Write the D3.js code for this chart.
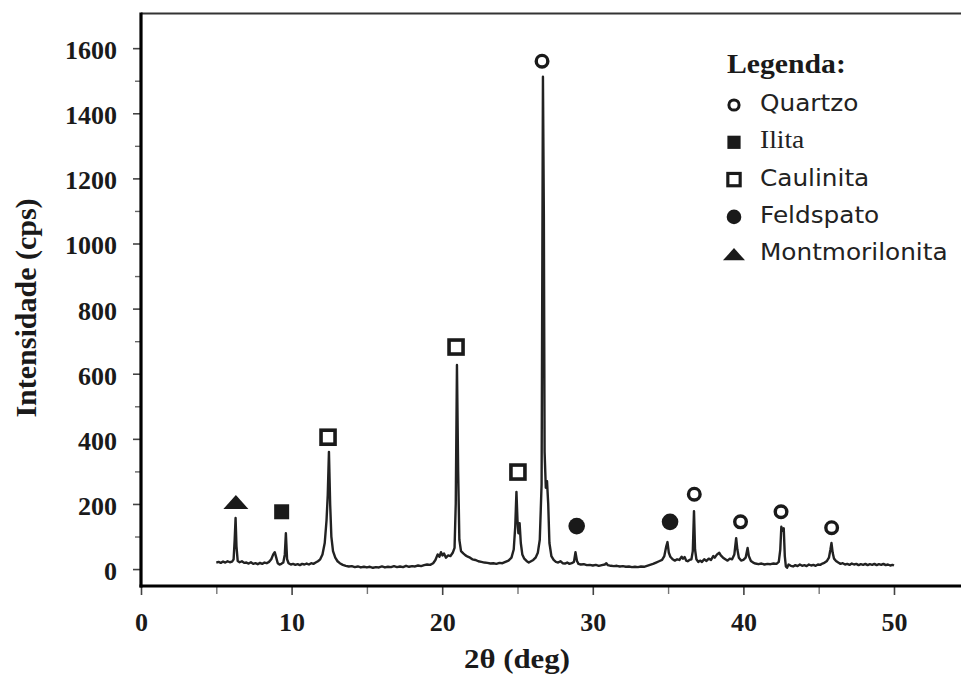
<!DOCTYPE html>
<html>
<head>
<meta charset="utf-8">
<title>Difratograma</title>
<script src="https://cdn.jsdelivr.net/npm/d3@7"></script>
<style>
  html, body { margin: 0; padding: 0; background: #fff; }
  svg { display: block; }
</style>
</head>
<body>
<div id="chart"></div>
<script>
// difratograma de raios X: [2θ (deg), intensidade (cps)]
const scan = [
  [5.0, 20], [5.15, 22], [5.3, 19], [5.45, 23], [5.6, 20], [5.75, 24], [5.9, 21], [6.05, 23],
  [6.15, 30], [6.22, 90], [6.28, 157], [6.34, 70], [6.42, 25], [6.55, 21], [6.7, 24], [6.85, 19],
  [7.0, 20], [7.15, 17], [7.3, 21], [7.45, 16], [7.6, 18], [7.75, 15], [7.9, 19], [8.05, 16],
  [8.2, 20], [8.35, 18], [8.5, 22], [8.65, 30], [8.78, 45], [8.88, 52], [8.98, 35], [9.08, 18],
  [9.2, 14], [9.32, 16], [9.45, 20], [9.55, 45], [9.62, 110], [9.7, 30], [9.8, 18], [9.95, 14],
  [10.1, 16], [10.25, 13], [10.4, 15], [10.55, 12], [10.7, 16], [10.85, 14], [11.0, 17], [11.15, 14],
  [11.3, 18], [11.45, 16], [11.6, 20], [11.75, 24], [11.9, 30], [12.05, 45], [12.2, 80], [12.32, 150],
  [12.4, 227], [12.48, 360], [12.56, 200], [12.64, 100], [12.75, 55], [12.9, 35], [13.05, 24], [13.2, 18],
  [13.4, 13], [13.6, 10], [13.8, 8], [14.0, 9], [14.2, 6], [14.4, 8], [14.6, 5], [14.8, 7],
  [15.0, 5], [15.2, 7], [15.4, 4], [15.6, 6], [15.8, 5], [16.0, 8], [16.2, 5], [16.4, 7],
  [16.6, 6], [16.8, 9], [17.0, 6], [17.2, 8], [17.4, 6], [17.6, 10], [17.8, 7], [18.0, 9],
  [18.2, 8], [18.4, 11], [18.6, 9], [18.8, 12], [19.0, 14], [19.2, 13], [19.4, 18], [19.55, 28],
  [19.7, 45], [19.82, 38], [19.92, 52], [20.02, 42], [20.12, 48], [20.25, 35], [20.4, 42], [20.55, 40],
  [20.7, 50], [20.82, 65], [20.9, 200], [20.98, 627], [21.06, 300], [21.14, 90], [21.25, 55], [21.4, 48],
  [21.55, 42], [21.7, 38], [21.85, 35], [22.0, 30], [22.2, 28], [22.4, 24], [22.6, 22], [22.8, 20],
  [23.0, 19], [23.2, 17], [23.4, 18], [23.6, 16], [23.8, 19], [24.0, 18], [24.2, 22], [24.4, 26],
  [24.6, 35], [24.75, 60], [24.85, 130], [24.93, 237], [25.0, 150], [25.06, 110], [25.14, 141], [25.22, 80],
  [25.32, 45], [25.45, 32], [25.6, 25], [25.75, 20], [25.9, 24], [26.05, 28], [26.2, 35], [26.35, 50],
  [26.48, 90], [26.6, 260], [26.69, 1512], [26.75, 1087], [26.8, 360], [26.88, 250], [26.96, 270], [27.04, 200],
  [27.12, 80], [27.25, 40], [27.4, 28], [27.55, 22], [27.7, 20], [27.85, 24], [28.0, 18], [28.15, 17],
  [28.3, 20], [28.45, 16], [28.6, 18], [28.75, 22], [28.85, 52], [28.95, 25], [29.05, 16], [29.2, 14],
  [29.4, 15], [29.6, 12], [29.8, 13], [30.0, 11], [30.2, 13], [30.4, 10], [30.6, 12], [30.8, 14],
  [30.9, 18], [31.0, 12], [31.2, 10], [31.4, 9], [31.6, 10], [31.8, 8], [32.0, 9], [32.2, 7],
  [32.4, 8], [32.6, 6], [32.8, 7], [33.0, 6], [33.2, 8], [33.4, 7], [33.6, 10], [33.8, 13],
  [34.0, 16], [34.2, 20], [34.4, 24], [34.6, 28], [34.75, 40], [34.88, 70], [34.96, 83], [35.05, 50],
  [35.15, 38], [35.3, 30], [35.45, 26], [35.6, 30], [35.75, 28], [35.9, 38], [36.0, 32], [36.1, 37],
  [36.2, 26], [36.3, 24], [36.42, 28], [36.55, 30], [36.64, 55], [36.72, 178], [36.79, 60], [36.88, 30],
  [37.0, 22], [37.12, 26], [37.25, 22], [37.4, 30], [37.55, 25], [37.7, 32], [37.85, 28], [38.0, 40],
  [38.1, 35], [38.25, 45], [38.4, 50], [38.5, 42], [38.65, 35], [38.8, 30], [38.95, 26], [39.1, 32],
  [39.25, 30], [39.4, 45], [39.52, 95], [39.6, 60], [39.7, 35], [39.85, 26], [40.0, 28], [40.15, 35],
  [40.28, 65], [40.36, 40], [40.5, 25], [40.65, 20], [40.8, 17], [41.0, 15], [41.2, 17], [41.4, 14],
  [41.6, 16], [41.8, 15], [42.0, 17], [42.2, 16], [42.35, 22], [42.45, 60], [42.52, 130], [42.6, 118],
  [42.68, 125], [42.75, 40], [42.82, 8], [42.9, 4], [43.0, 14], [43.15, 10], [43.3, 8], [43.45, 12],
  [43.6, 9], [43.75, 14], [43.9, 10], [44.05, 12], [44.2, 9], [44.35, 14], [44.5, 11], [44.65, 13],
  [44.8, 10], [44.95, 14], [45.1, 13], [45.25, 17], [45.4, 20], [45.55, 25], [45.68, 35], [45.78, 60],
  [45.85, 80], [45.93, 50], [46.02, 32], [46.15, 25], [46.3, 20], [46.45, 16], [46.6, 18], [46.75, 14],
  [46.9, 16], [47.05, 13], [47.2, 17], [47.35, 14], [47.5, 16], [47.65, 12], [47.8, 15], [47.95, 13],
  [48.1, 16], [48.25, 12], [48.4, 15], [48.55, 13], [48.7, 16], [48.85, 12], [49.0, 15], [49.15, 13],
  [49.3, 16], [49.45, 12], [49.6, 14], [49.75, 11], [49.9, 13], [50.0, 11]
];

// fases identificadas sobre os picos
const peakPhase = ["Montmorilonita", "Ilita", "Caulinita", "Caulinita", "Caulinita", "Quartzo",
                   "Feldspato", "Feldspato", "Quartzo", "Quartzo", "Quartzo", "Quartzo"];
const peakTheta = [6.3, 9.34, 12.42, 20.92, 25.03, 26.63, 28.93, 35.13, 36.74, 39.81, 42.5, 45.86];
const peakCps   = [206, 176, 405, 682, 298, 1560, 132, 145, 230, 145, 176, 127];

const legendLabels = ["Quartzo", "Ilita", "Caulinita", "Feldspato", "Montmorilonita"];

const xTicks = [0, 10, 20, 30, 40, 50];
const xMinorTicks = [5, 15, 25, 35, 45];
const yTicks = [0, 200, 400, 600, 800, 1000, 1200, 1400, 1600];
const yMinorTicks = [100, 300, 500, 700, 900, 1100, 1300, 1500];

const width = 961;
const height = 682;
const serif = "'Liberation Serif', 'Times New Roman', serif";
const sans = "'DejaVu Sans', Verdana, sans-serif";
const ink = "#1a1a1a";

const svg = d3.select("#chart")
    .append("svg")
    .attr("width", width)
    .attr("height", height)
    .attr("viewBox", [0, 0, width, height]);

// scales (plot area runs off the right edge of the picture)
const x = d3.scaleLinear().domain([0, 54.45]).range([141, 961]);
const y = d3.scaleLinear().domain([-52, 1708]).range([586, 13]);

// pattern line
const line = d3.line()
    .x(d => x(d[0]))
    .y(d => y(d[1]));

svg.append("path")
    .datum(scan)
    .attr("d", line)
    .attr("fill", "none")
    .attr("stroke", "#222")
    .attr("stroke-width", 2.4)
    .attr("stroke-linejoin", "round");

// symbols
function drawSymbol(g, phase, s) {
    if (phase === "Quartzo") {
        g.append("circle").attr("r", 5.8 * s)
            .attr("fill", "#fff").attr("stroke", ink).attr("stroke-width", 3.4 * s);
    } else if (phase === "Ilita") {
        g.append("rect").attr("x", -7.5 * s).attr("y", -7.5 * s)
            .attr("width", 15 * s).attr("height", 15 * s).attr("fill", ink);
    } else if (phase === "Caulinita") {
        g.append("rect").attr("x", -7 * s).attr("y", -7 * s)
            .attr("width", 14 * s).attr("height", 14 * s)
            .attr("fill", "#fff").attr("stroke", ink).attr("stroke-width", 3.6 * s);
    } else if (phase === "Feldspato") {
        g.append("circle").attr("r", 8.3 * s).attr("fill", ink);
    } else {
        g.append("path")
            .attr("d", `M${-12.5 * s},${7 * s}L0,${-7 * s}L${12.5 * s},${7 * s}Z`)
            .attr("fill", ink);
    }
}

const marks = svg.append("g");
peakPhase.forEach((p, i) => {
    const g = marks.append("g")
        .attr("transform", `translate(${x(peakTheta[i])},${y(peakCps[i])})`);
    drawSymbol(g, p, 1);
});

// axes
const tickFont = g => g
    .attr("font-family", serif)
    .attr("font-size", 26)
    .attr("font-weight", "bold");

svg.append("g")
    .attr("transform", "translate(0,586)")
    .call(d3.axisBottom(x).tickValues(xTicks).tickSize(9).tickPadding(18).tickFormat(d3.format("d")))
    .call(tickFont)
    .call(g => g.select(".domain").remove())
    .call(g => g.selectAll(".tick line").attr("stroke", "#444").attr("stroke-width", 1.6))
    .call(g => g.selectAll(".tick text").attr("fill", ink));

svg.append("g")
    .attr("transform", "translate(0,586)")
    .call(d3.axisBottom(x).tickValues(xMinorTicks).tickSize(8).tickFormat(""))
    .call(g => g.select(".domain").remove())
    .call(g => g.selectAll(".tick line").attr("stroke", "#777").attr("stroke-width", 1.4));

svg.append("g")
    .attr("transform", "translate(141,0)")
    .call(d3.axisLeft(y).tickValues(yTicks).tickSize(8).tickPadding(16).tickFormat(d3.format("d")))
    .call(tickFont)
    .call(g => g.select(".domain").remove())
    .call(g => g.selectAll(".tick line").attr("stroke", "#444").attr("stroke-width", 1.6))
    .call(g => g.selectAll(".tick text").attr("fill", ink).attr("dy", "0.4em"));

svg.append("g")
    .attr("transform", "translate(141,0)")
    .call(d3.axisLeft(y).tickValues(yMinorTicks).tickSize(6).tickFormat(""))
    .call(g => g.select(".domain").remove())
    .call(g => g.selectAll(".tick line").attr("stroke", "#666").attr("stroke-width", 1.4));

// frame lines
svg.append("line")
    .attr("x1", 141).attr("x2", width).attr("y1", 13.5).attr("y2", 13.5)
    .attr("stroke", "#333").attr("stroke-width", 2);
svg.append("line")
    .attr("x1", 141).attr("x2", 141).attr("y1", 12.5).attr("y2", 587.5)
    .attr("stroke", "#000").attr("stroke-width", 3.2);
svg.append("line")
    .attr("x1", 139.5).attr("x2", width).attr("y1", 586).attr("y2", 586)
    .attr("stroke", "#000").attr("stroke-width", 3.2);

// axis titles
svg.append("text")
    .attr("transform", "translate(517,668) scale(1.1,1)")
    .attr("text-anchor", "middle")
    .attr("font-family", serif)
    .attr("font-size", 28)
    .attr("font-weight", "bold")
    .attr("fill", ink)
    .text("2θ (deg)");

svg.append("text")
    .attr("transform", "translate(36,308) rotate(-90)")
    .attr("text-anchor", "middle")
    .attr("font-family", serif)
    .attr("font-size", 30)
    .attr("font-weight", "bold")
    .attr("fill", ink)
    .text("Intensidade (cps)");

// legend
const legend = svg.append("g");
legend.append("text")
    .attr("transform", "translate(727,73) scale(1.1,1)")
    .attr("font-family", serif)
    .attr("font-size", 27)
    .attr("font-weight", "bold")
    .attr("fill", ink)
    .text("Legenda:");

legendLabels.forEach((label, i) => {
    const base = 111 + i * 37.3;
    const g = legend.append("g").attr("transform", `translate(734,${base - 6})`);
    drawSymbol(g, label, 0.88);
    legend.append("text")
        .attr("transform", `translate(760,${base}) scale(1.1,1)`)
        .attr("font-family", label === "Ilita" ? serif : sans)
        .attr("font-size", label === "Ilita" ? 25 : 22.5)
        .attr("fill", "#222")
        .text(label);
});
</script>
</body>
</html>
